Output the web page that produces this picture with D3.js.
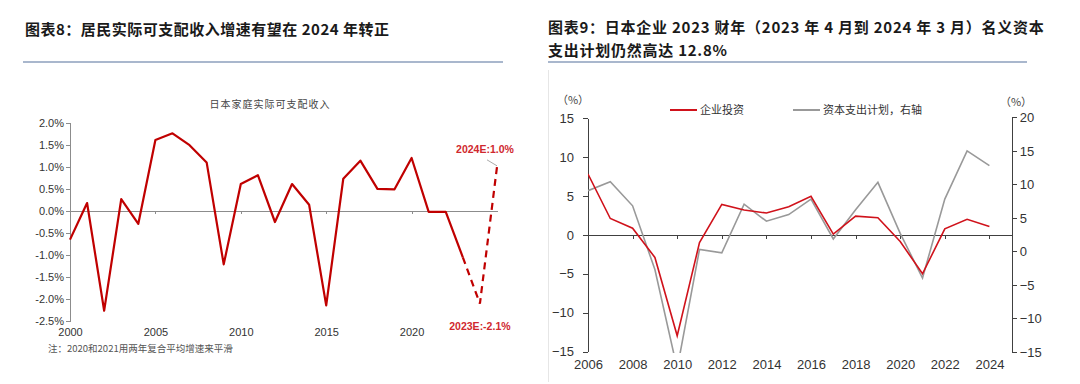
<!DOCTYPE html>
<html lang="zh">
<head>
<meta charset="UTF-8">
<title>图表8 / 图表9</title>
<script src="https://d3js.org/d3.v7.min.js"></script>
<style>
  body { margin: 0; background: #fff; }
  svg text { font-family: "Liberation Sans", Arial, "Noto Sans CJK SC", sans-serif; }
  .cjk { font-family: "Noto Sans CJK SC", sans-serif; }
  .axis path, .axis line { stroke: #8c8c8c; shape-rendering: crispEdges; }
  .axis text { font-size: 11px; fill: #333; }
  .raxis path, .raxis line { stroke: #404040; shape-rendering: crispEdges; }
  .raxis text { font-size: 13px; fill: #333; }
</style>
</head>
<body>
<script>
// 图表8：日本家庭实际可支配收入（%）
var incomeYears = [2000, 2001, 2002, 2003, 2004, 2005, 2006, 2007, 2008, 2009,
  2010, 2011, 2012, 2013, 2014, 2015, 2016, 2017, 2018, 2019,
  2020, 2021, 2022, 2023, 2024, 2025];
var incomeValues = [-0.65, 0.18, -2.26, 0.27, -0.29, 1.61, 1.76, 1.49, 1.10, -1.21,
  0.61, 0.81, -0.25, 0.61, 0.14, -2.14, 0.73, 1.14, 0.50, 0.49,
  1.20, -0.02, -0.02, -1.05, -2.10, 1.00];
var incomeSolidCount = 24;          // 前24个点实线，之后为预测虚线
var incomeTicks = [-2.5, -2.0, -1.5, -1.0, -0.5, 0.0, 0.5, 1.0, 1.5, 2.0];
var incomeYearLabels = [2000, 2005, 2010, 2015, 2020];

// 图表9：企业投资 与 资本支出计划（%）
var capexYears = [2006, 2007, 2008, 2009, 2010, 2011, 2012, 2013, 2014, 2015,
  2016, 2017, 2018, 2019, 2020, 2021, 2022, 2023, 2024];
var investValues = [7.8, 2.1, 0.85, -2.9, -12.95, -1.0, 3.9, 3.2, 2.8, 3.6,
  4.95, 0.1, 2.4, 2.2, -0.85, -5.0, 0.77, 2.0, 1.07];
var capexPlanValues = [9.05, 10.4, 6.8, -2.7, -17.5, 0.3, -0.2, 7.05, 4.5, 5.5,
  7.8, 1.85, 6.2, 10.3, 2.7, -3.97, 7.8, 15.0, 12.8];
var leftTicks = [-15, -10, -5, 0, 5, 10, 15];
var rightTicks = [-15, -10, -5, 0, 5, 10, 15, 20];
var capexYearLabels = [2006, 2008, 2010, 2012, 2014, 2016, 2018, 2020, 2022, 2024];

var svg = d3.select("body").append("svg")
  .attr("width", 1080).attr("height", 384);

// ---------- 标题 ----------
svg.append("text").attr("class", "cjk")
  .attr("x", 25).attr("y", 35)
  .attr("font-size", 15).attr("font-weight", "bold").attr("fill", "#1a1a1a")
  .attr("letter-spacing", 0.5)
  .text("图表8：居民实际可支配收入增速有望在 2024 年转正");
svg.append("line")
  .attr("x1", 23).attr("x2", 503).attr("y1", 62).attr("y2", 62)
  .attr("stroke", "#a9b7cd").attr("stroke-width", 2);

svg.append("text").attr("class", "cjk")
  .attr("x", 548).attr("y", 33)
  .attr("font-size", 15).attr("font-weight", "bold").attr("fill", "#1a1a1a")
  .attr("letter-spacing", 0.75)
  .text("图表9：日本企业 2023 财年（2023 年 4 月到 2024 年 3 月）名义资本");
svg.append("text").attr("class", "cjk")
  .attr("x", 548).attr("y", 56)
  .attr("font-size", 15).attr("font-weight", "bold").attr("fill", "#1a1a1a")
  .attr("letter-spacing", 0.75)
  .text("支出计划仍然高达 12.8%");
svg.append("line")
  .attr("x1", 548).attr("x2", 1027).attr("y1", 62).attr("y2", 62)
  .attr("stroke", "#a9b7cd").attr("stroke-width", 2);
svg.append("line")
  .attr("x1", 548.5).attr("x2", 548.5).attr("y1", 70).attr("y2", 382)
  .attr("stroke", "#e6e6e6").attr("stroke-width", 1);

// ---------- 左图 ----------
var xL = d3.scaleLinear().domain([2000, 2025]).range([70, 497]);
var yL = d3.scaleLinear().domain([-2.5, 2.0]).range([321.3, 122.7]);

svg.append("text").attr("class", "cjk")
  .attr("x", 270).attr("y", 108).attr("text-anchor", "middle")
  .attr("font-size", 10).attr("fill", "#444").attr("letter-spacing", 1)
  .text("日本家庭实际可支配收入");

svg.append("g").attr("class", "axis")
  .attr("transform", "translate(" + xL(2000) + ",0)")
  .call(d3.axisLeft(yL).tickValues(incomeTicks).tickSize(4).tickSizeOuter(4)
    .tickFormat(function(d) { return d.toFixed(1) + "%"; }))
  .call(function(g) { g.selectAll("text").attr("x", -6); });

svg.append("g").attr("class", "axis")
  .attr("transform", "translate(0," + yL(0) + ")")
  .call(d3.axisBottom(xL).tickValues([2005, 2010, 2015, 2020]).tickSize(3).tickSizeOuter(0)
    .tickFormat(""));

svg.append("g").attr("class", "axis")
  .attr("transform", "translate(0," + (yL(-2.5) + 4) + ")")
  .call(d3.axisBottom(xL).tickValues(incomeYearLabels).tickSize(0).tickFormat(d3.format("d")))
  .call(function(g) { g.select(".domain").remove(); });

var incomePts = incomeYears.map(function(y, i) { return [y, incomeValues[i]]; });
var lineL = d3.line().x(function(d) { return xL(d[0]); }).y(function(d) { return yL(d[1]); });

svg.append("path")
  .datum(incomePts.slice(0, incomeSolidCount))
  .attr("d", lineL).attr("fill", "none")
  .attr("stroke", "#c00000").attr("stroke-width", 2.2).attr("stroke-linejoin", "round");
svg.append("path")
  .datum(incomePts.slice(incomeSolidCount - 1))
  .attr("d", lineL).attr("fill", "none")
  .attr("stroke", "#c00000").attr("stroke-width", 2.2).attr("stroke-dasharray", "7,5");

// 预测标注
var p23 = incomePts[incomePts.length - 2], p24 = incomePts[incomePts.length - 1];
svg.append("line")
  .attr("x1", xL(p24[0]) - 10).attr("y1", yL(p24[1]) - 7)
  .attr("x2", xL(p24[0])).attr("y2", yL(p24[1]) - 1)
  .attr("stroke", "#aaa").attr("stroke-width", 1);
svg.append("text")
  .attr("x", xL(p24[0]) - 12).attr("y", yL(p24[1]) - 14).attr("text-anchor", "middle")
  .attr("font-size", 10.5).attr("font-weight", "bold").attr("fill", "#d0282e")
  .text("2024E:1.0%");
svg.append("text")
  .attr("x", xL(p23[0])).attr("y", yL(p23[1]) + 26).attr("text-anchor", "middle")
  .attr("font-size", 10.5).attr("font-weight", "bold").attr("fill", "#d0282e")
  .text("2023E:-2.1%");

svg.append("text").attr("class", "cjk")
  .attr("x", 48).attr("y", 352)
  .attr("font-size", 9.5).attr("fill", "#555")
  .text("注：2020和2021用两年复合平均增速来平滑");

// ---------- 右图 ----------
var xR = d3.scaleLinear().domain([2006, 2025]).range([588, 1011.7]);
var yR1 = d3.scaleLinear().domain([-15, 15]).range([351.7, 118]);
var yR2 = d3.scaleLinear().domain([-15, 20]).range([352, 117.3]);

svg.append("defs").append("clipPath").attr("id", "clipR")
  .append("rect").attr("x", 588).attr("y", 112).attr("width", 424).attr("height", 241);

svg.append("g").attr("class", "raxis")
  .attr("transform", "translate(" + xR(2006) + ",0)")
  .call(d3.axisLeft(yR1).tickValues(leftTicks).tickSize(5).tickSizeOuter(0).tickFormat(d3.format("d")))
  .call(function(g) { g.selectAll("text").attr("x", -14); });

svg.append("g").attr("class", "raxis")
  .attr("transform", "translate(" + xR(2025) + ",0)")
  .call(d3.axisRight(yR2).tickValues(rightTicks).tickSize(5).tickSizeOuter(0).tickFormat(d3.format("d")))
  .call(function(g) { g.selectAll("text").attr("x", 8); });

svg.append("g").attr("class", "raxis")
  .attr("transform", "translate(0," + yR1(0) + ")")
  .call(d3.axisBottom(xR).tickValues(d3.range(2008, 2025, 2)).tickSize(4).tickSizeOuter(0).tickFormat(""));

svg.append("g").attr("class", "raxis")
  .attr("transform", "translate(0," + (yR1(-15) + 5) + ")")
  .call(d3.axisBottom(xR).tickValues(capexYearLabels).tickSize(0).tickFormat(d3.format("d")))
  .call(function(g) { g.select(".domain").remove(); });

svg.append("text").attr("class", "cjk")
  .attr("x", 573).attr("y", 104).attr("text-anchor", "middle")
  .attr("font-size", 11).attr("fill", "#444").text("（%）");
svg.append("text").attr("class", "cjk")
  .attr("x", 1016).attr("y", 106).attr("text-anchor", "middle")
  .attr("font-size", 11).attr("fill", "#444").text("（%）");

var gPlot = svg.append("g").attr("clip-path", "url(#clipR)");
gPlot.append("path")
  .datum(capexYears.map(function(y, i) { return [y, capexPlanValues[i]]; }))
  .attr("d", d3.line().x(function(d) { return xR(d[0]); }).y(function(d) { return yR2(d[1]); }))
  .attr("fill", "none").attr("stroke", "#999").attr("stroke-width", 1.6);
gPlot.append("path")
  .datum(capexYears.map(function(y, i) { return [y, investValues[i]]; }))
  .attr("d", d3.line().x(function(d) { return xR(d[0]); }).y(function(d) { return yR1(d[1]); }))
  .attr("fill", "none").attr("stroke", "#d0121b").attr("stroke-width", 1.6);

// 图例
var legend = [
  { name: "企业投资", color: "#d0121b", x: 670 },
  { name: "资本支出计划，右轴", color: "#999", x: 793 }
];
legend.forEach(function(l) {
  svg.append("line").attr("x1", l.x).attr("x2", l.x + 27).attr("y1", 110).attr("y2", 110)
    .attr("stroke", l.color).attr("stroke-width", 2);
  svg.append("text").attr("class", "cjk")
    .attr("x", l.x + 30).attr("y", 114).attr("font-size", 11).attr("fill", "#333")
    .text(l.name);
});
</script>
</body>
</html>
